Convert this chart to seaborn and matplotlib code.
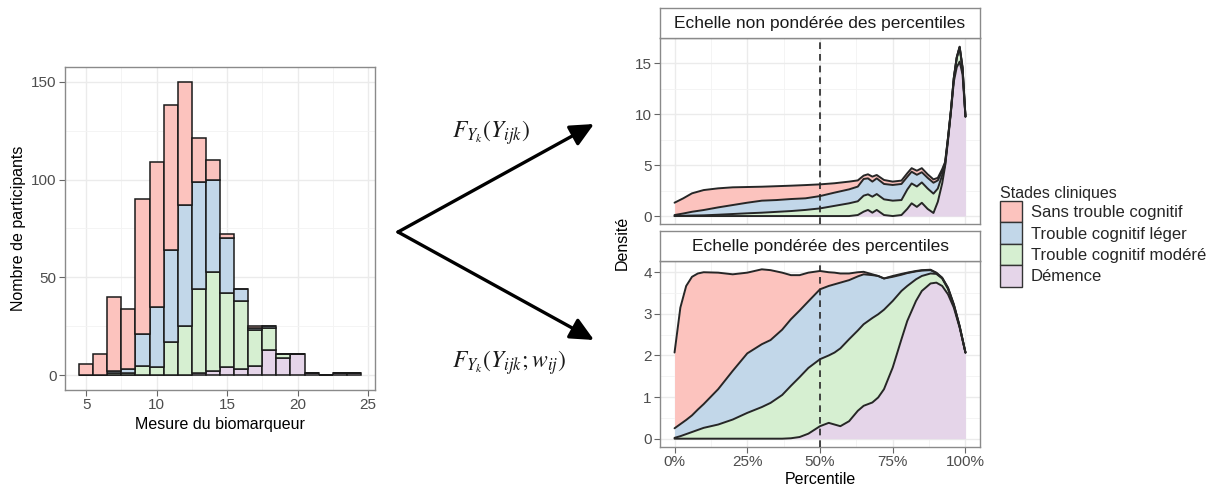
import numpy as np
import pandas as pd
import matplotlib
matplotlib.use("Agg")
import matplotlib.pyplot as plt
import seaborn as sns
from matplotlib.patches import Patch, FancyArrowPatch
from matplotlib.ticker import MultipleLocator, FuncFormatter

# ---------------- data ----------------
stades = ["Sans trouble cognitif", "Trouble cognitif léger",
          "Trouble cognitif modéré", "Démence"]
couleurs = ["#FCC3BE", "#C2D7E9", "#D6EFD1", "#E5D5E9"]

bins_centre = list(range(5, 25))
n_sans    = [6, 11, 38, 31, 69, 74, 74, 63, 22, 10, 2, 0, 1, 0, 0, 0, 0, 0, 0, 0]
n_leger   = [0, 0, 1, 2, 16, 31, 47, 62, 55, 47, 28, 6, 1, 1, 0, 0, 0, 0, 0, 0]
n_modere  = [0, 0, 1, 1, 5, 4, 17, 25, 43, 51, 38, 35, 18, 11, 2, 0, 0, 0, 0, 0]
n_demence = [0, 0, 0, 0, 0, 0, 0, 0, 1, 2, 4, 3, 5, 13, 9, 11, 1, 0, 1, 1]

# Unweighted percentile scale: stacked density boundaries (cumulative tops)
p_nonpond = [0, 3, 6, 10, 15, 20, 25, 30, 35, 40, 45, 50, 55, 60, 63, 65, 66.5, 68,
             69.5, 72, 75, 78, 80, 81.5, 83.3, 85, 87, 89, 90.5, 92, 93, 94, 95, 96,
             97, 98, 99, 100]
np_sans = [1.31, 1.74, 2.23, 2.55, 2.72, 2.82, 2.85, 2.88, 2.93, 2.98, 3.04, 3.11, 3.22,
           3.38, 3.5, 3.97, 4.1, 3.87, 4.03, 3.54, 3.38, 3.48,
           4.2, 4.7, 4.45, 4.7, 4.1, 3.6, 3.75, 4.6, 5.3, 7.7, 10.4, 13.6, 15.6,
           16.63, 14.6, 9.77]
np_leger = [0.1, 0.25, 0.42, 0.59, 0.85, 1.08, 1.31, 1.51, 1.57, 1.67, 1.74, 1.96, 2.3,
            2.62, 2.89, 3.64, 3.7, 3.38, 3.7, 3.15, 3.05, 3.15,
            3.85, 4.35, 4.05, 4.3, 3.75, 3.27, 3.5, 4.4, 5.2, 7.65, 10.35, 13.55, 15.55,
            16.6, 14.55, 9.77]
np_modere = [0, 0.03, 0.05, 0.07, 0.13, 0.2, 0.27, 0.33, 0.41, 0.49, 0.6, 0.75, 1.0,
             1.25, 1.45, 2.0, 2.13, 1.9, 2.16, 1.64, 1.51, 1.57,
             2.6, 3.2, 2.9, 3.3, 2.7, 2.2, 2.7, 4.0, 5.0, 7.6, 10.3, 13.5, 15.5,
             16.55, 14.5, 9.77]
np_demence = [0, 0, 0, 0, 0, 0, 0, 0, 0, 0, 0, 0, 0, 0, 0.1, 0.43, 0.6, 0.33, 0.6, 0.1,
              0, 0.1,
              0.7, 1.25, 0.9, 1.3, 0.7, 0.3, 1.4, 3.2, 4.9, 7.4, 10.2, 13.2, 14.6,
              15.16, 13.9, 9.77]

# Weighted percentile scale: stacked density boundaries (cumulative tops)
p_pond = [0, 2, 4, 6, 8, 10, 15, 20, 25, 30, 33, 37, 40, 43, 46, 50, 53, 55, 57, 60,
          63, 65, 68, 70, 72, 75, 78, 80, 83, 85, 88, 90, 92, 94, 96, 98, 100]
pd_sans = [2.07, 3.15, 3.67, 3.89, 3.97, 4.0, 3.99, 3.95, 3.99, 4.07, 4.05, 3.99, 3.93,
           3.93, 3.99, 4.03, 4.0, 3.99, 3.97, 3.97, 4.0, 4.01, 3.95, 3.91, 3.85, 3.91,
           3.96, 3.99, 4.03, 4.05, 4.06, 3.99, 3.87, 3.63, 3.23, 2.71, 2.07]
pd_leger = [0.25, 0.35, 0.45, 0.56, 0.7, 0.83, 1.19, 1.63, 2.05, 2.27, 2.37, 2.62, 2.87,
            3.08, 3.3, 3.59, 3.67, 3.71, 3.75, 3.81, 3.9, 3.95, 3.93, 3.91, 3.85, 3.89,
            3.94, 3.98, 4.02, 4.04, 4.05, 3.98, 3.86, 3.62, 3.22, 2.7, 2.07]
pd_modere = [0.02, 0.06, 0.11, 0.16, 0.21, 0.26, 0.34, 0.46, 0.62, 0.76, 0.86, 1.05, 1.27,
             1.48, 1.7, 1.91, 2.0, 2.07, 2.17, 2.39, 2.6, 2.75, 2.9, 2.99, 3.1, 3.31,
             3.55, 3.67, 3.83, 3.91, 3.97, 3.96, 3.85, 3.6, 3.2, 2.69, 2.07]
pd_demence = [0, 0, 0, 0, 0, 0, 0, 0, 0, 0, 0, 0, 0.01, 0.04, 0.12, 0.3, 0.38, 0.34, 0.3,
              0.42, 0.67, 0.79, 0.87, 0.99, 1.19, 1.71, 2.39, 2.83, 3.31, 3.55, 3.73,
              3.75, 3.67, 3.47, 3.15, 2.67, 2.07]

# ---------------- style ----------------
sns.set_theme(style="white")
plt.rcParams['font.family'] = ['Liberation Sans', 'DejaVu Sans']
plt.rcParams['mathtext.fontset'] = 'stix'

W, H = 1207, 486
fig = plt.figure(figsize=(W / 100, H / 100), dpi=100)
fig.patch.set_facecolor('white')


def rect(x0, y0, x1, y1):
    return [x0 / W, 1 - y1 / H, (x1 - x0) / W, (y1 - y0) / H]


FS = 11.5
TFS = 11
TICKCOL = '#4D4D4D'


def style(ax):
    ax.set_facecolor('white')
    for s in ax.spines.values():
        s.set_color('#8A8A8A')
        s.set_linewidth(1.0)
    ax.grid(True, which='major', color='#EBEBEB', lw=1.0)
    ax.grid(True, which='minor', color='#F3F3F3', lw=0.6)
    ax.set_axisbelow(True)
    ax.tick_params(which='major', length=4, width=0.8, color='#666666',
                   labelcolor=TICKCOL, labelsize=TFS, pad=2,
                   bottom=True, left=True)
    ax.tick_params(which='minor', length=0)


# ---------------- histogram ----------------
ax_h = fig.add_axes(rect(65, 67, 375, 390))
df = pd.DataFrame({
    'mesure': np.tile(bins_centre, 4).astype(float),
    'n': np.array(n_sans + n_leger + n_modere + n_demence, dtype=float),
    'stade': np.repeat(stades, len(bins_centre)),
})
sns.histplot(data=df, x='mesure', weights='n', hue='stade', hue_order=stades,
             multiple='stack', binwidth=1, binrange=(4.5, 24.5), palette=couleurs,
             edgecolor='#1A1A1A', linewidth=1.1, alpha=1, legend=False, ax=ax_h)
style(ax_h)
ax_h.set_xlim(3.5, 25.5)
ax_h.set_ylim(-7.5, 157.5)
ax_h.xaxis.set_major_locator(MultipleLocator(5))
ax_h.xaxis.set_minor_locator(MultipleLocator(2.5))
ax_h.yaxis.set_major_locator(MultipleLocator(50))
ax_h.yaxis.set_minor_locator(MultipleLocator(25))
ax_h.set_xlabel("Mesure du biomarqueur", fontsize=FS, color='black', labelpad=3)
ax_h.set_ylabel("Nombre de participants", fontsize=FS, color='black', labelpad=4)

# ---------------- density panels ----------------
ax_t = fig.add_axes(rect(660, 38, 980, 224.5))
ax_b = fig.add_axes(rect(660, 261, 980, 447))


def stack_panel(ax, p, bounds):
    lower = np.zeros(len(p))
    cols = couleurs[::-1]
    for top, col in zip(bounds, cols):
        ax.fill_between(p, lower, top, color=col, lw=0, zorder=2)
        lower = np.asarray(top)
    for top in bounds:
        sns.lineplot(x=p, y=top, color='#262626', lw=1.4, ax=ax, zorder=3,
                     estimator=None, sort=False)
    ax.axvline(50, color='#262626', ls=(0, (4, 3)), lw=1.2, zorder=4)


stack_panel(ax_t, p_nonpond, [np_demence, np_modere, np_leger, np_sans])
stack_panel(ax_b, p_pond, [pd_demence, pd_modere, pd_leger, pd_sans])

for ax in (ax_t, ax_b):
    style(ax)
    ax.set_xlim(-5, 105)
    ax.xaxis.set_major_locator(MultipleLocator(25))
    ax.xaxis.set_minor_locator(MultipleLocator(12.5))
    ax.set_xlabel("")
    ax.set_ylabel("")

ax_t.set_ylim(-0.83, 17.48)
ax_t.yaxis.set_major_locator(MultipleLocator(5))
ax_t.yaxis.set_minor_locator(MultipleLocator(2.5))
ax_t.tick_params(axis='x', length=0, labelbottom=False)

ax_b.set_ylim(-0.2, 4.27)
ax_b.yaxis.set_major_locator(MultipleLocator(1))
ax_b.yaxis.set_minor_locator(MultipleLocator(0.5))
ax_b.xaxis.set_major_formatter(FuncFormatter(lambda v, pos: f"{v:.0f}%"))
ax_b.set_xlabel("Percentile", fontsize=FS, color='black', labelpad=2)

# strips
for (y0, y1, txt) in [(8, 38, "Echelle non pondérée des percentiles"),
                      (231, 261, "Echelle pondérée des percentiles")]:
    st = fig.add_axes(rect(660, y0, 980, y1))
    st.set_facecolor('white')
    st.set_xticks([])
    st.set_yticks([])
    for s in st.spines.values():
        s.set_color('#8A8A8A')
        s.set_linewidth(1.0)
    st.text(0.5, 0.47, txt, ha='center', va='center', fontsize=12.5,
            color='#1A1A1A', transform=st.transAxes)

fig.text(622 / W, 1 - 243 / H, "Densité", rotation=90, ha='center', va='center',
         fontsize=FS, color='black')

# legend
handles = [Patch(facecolor=c, edgecolor='#333333', lw=1.0) for c in couleurs]
leg = fig.legend(handles, stades, loc='upper left',
                 bbox_to_anchor=(1000 / W, 1 - 186 / H), frameon=False,
                 title="Stades cliniques", title_fontsize=FS, fontsize=12,
                 handlelength=1.3, handleheight=1.6, labelspacing=0.0,
                 handletextpad=0.55, borderpad=0, borderaxespad=0,
                 alignment='left')

# arrows and formulas
start = (398 / W, 1 - 232 / H)
for (x1, y1) in [(594, 124), (594, 340)]:
    arr = FancyArrowPatch(start, (x1 / W, 1 - y1 / H), transform=fig.transFigure,
                          arrowstyle='-|>,head_length=0.95,head_width=0.45',
                          mutation_scale=15, color='black', lw=2.4,
                          shrinkA=0, shrinkB=0)
    fig.add_artist(arr)

fig.text(452 / W, 1 - 133 / H, r'$F_{Y_k}(Y_{ijk})$', fontsize=17,
         ha='left', va='center', color='#1A1A1A')
fig.text(452 / W, 1 - 363 / H, r'$F_{Y_k}(Y_{ijk};w_{ij})$', fontsize=17,
         ha='left', va='center', color='#1A1A1A')

fig.savefig("out.png", dpi=100, facecolor='white')
